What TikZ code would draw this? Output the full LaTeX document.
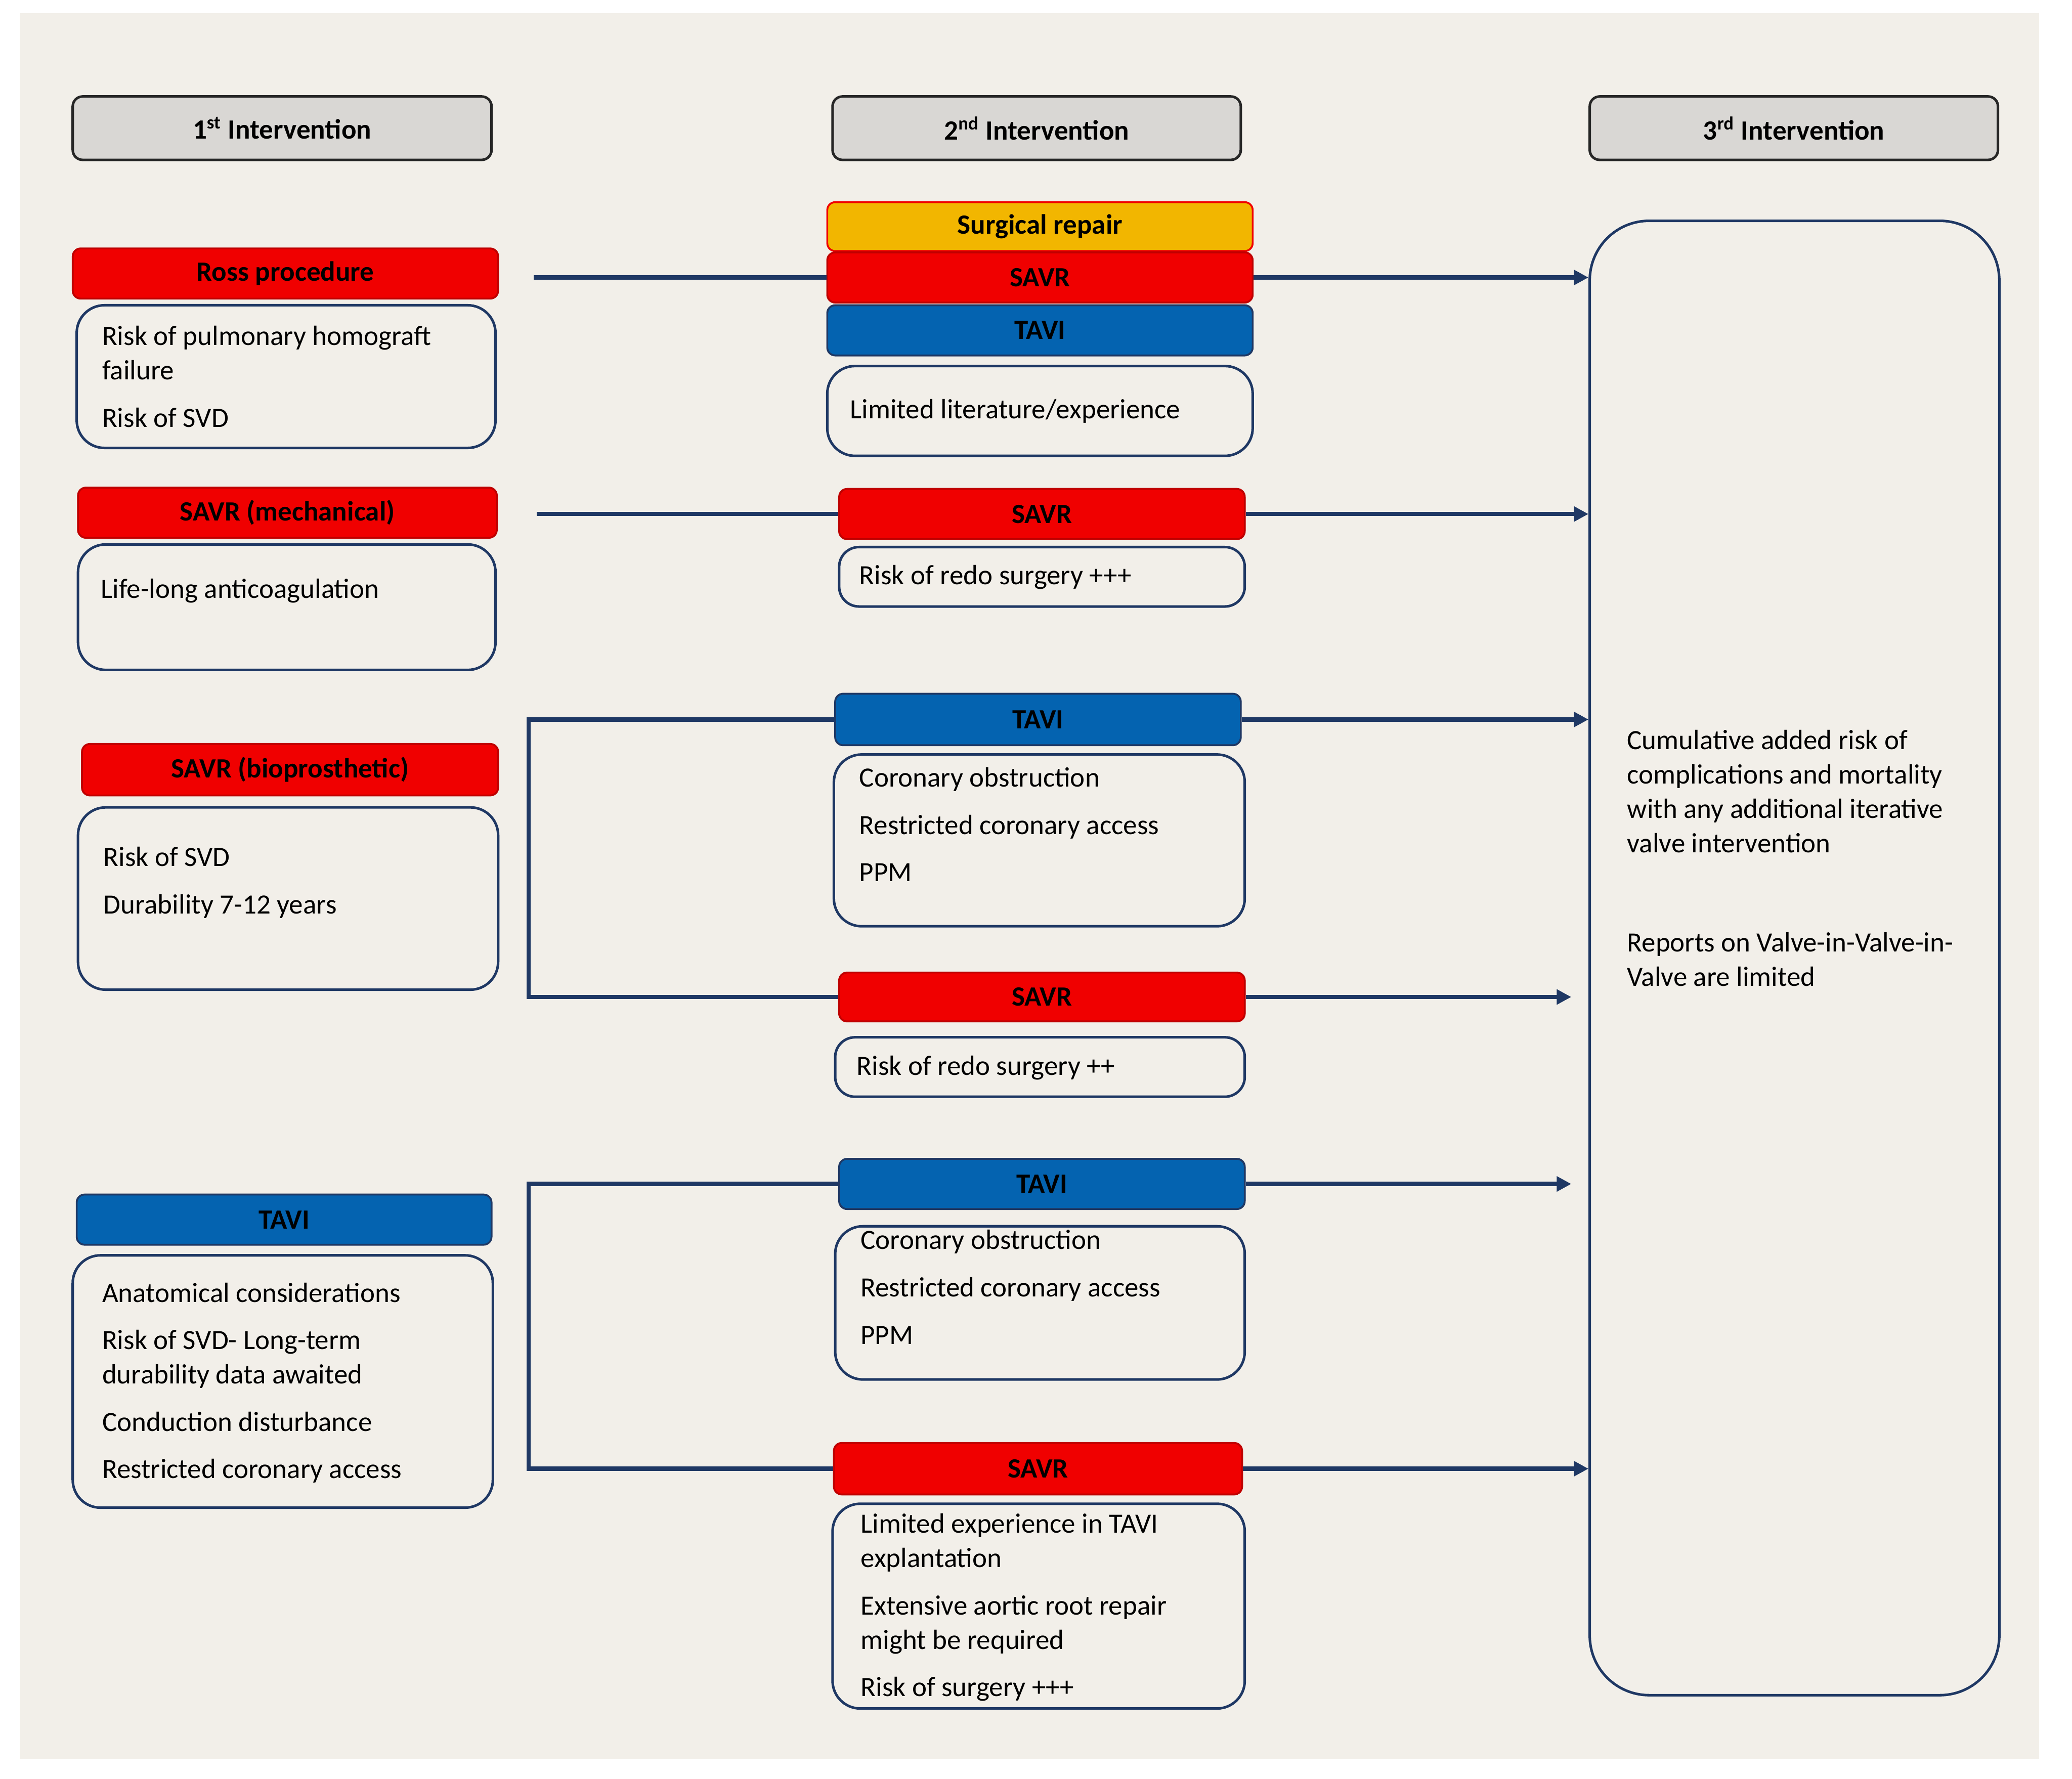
\documentclass[tikz,border=0pt]{standalone}
\usepackage{fontspec}
\setmainfont{Carlito}
\usetikzlibrary{arrows.meta}

\definecolor{panel}{RGB}{242,239,233}
\definecolor{headgray}{RGB}{217,215,212}
\definecolor{savrred}{RGB}{240,0,0}
\definecolor{taviblue}{RGB}{4,99,176}
\definecolor{repairyel}{RGB}{242,182,0}
\definecolor{navy}{RGB}{31,56,100}

\begin{document}
\begin{tikzpicture}[x=0.02cm,y=-0.02cm,>={Triangle[length=0.22cm,width=0.22cm]},
  every node/.style={font=\fontsize{12}{14.8}\selectfont,inner sep=0pt},
  head/.style={draw=black!85,line width=1.1pt,fill=headgray,rounded corners=0.15cm,
    font=\fontsize{12}{14.8}\selectfont\bfseries,minimum height=0.96cm},
  tag/.style={rounded corners=0.12cm,line width=0.8pt,
    font=\fontsize{12}{14.8}\selectfont\bfseries,minimum height=0.76cm},
  savr/.style={tag,fill=savrred,draw=red!75!black},
  tavi/.style={tag,fill=taviblue,draw=navy},
  repair/.style={tag,fill=repairyel,draw=savrred},
  risk/.style={draw=navy,line width=1.1pt,rounded corners=0.42cm},
  risktext/.style={anchor=west,align=left},
  link/.style={draw=navy,line width=1.8pt}]

  % page and panel
  \fill[white] (0,0) rectangle (1568,1346);
  \fill[panel] (15,10) rectangle (1543,1331);

  % column headers
  \node[head,minimum width=6.34cm] (h1) at (213.5,97) {1\textsuperscript{st} Intervention};
  \node[head,minimum width=6.18cm] (h2) at (784.5,97) {2\textsuperscript{nd} Intervention};
  \node[head,minimum width=6.18cm] (h3) at (1357.5,97) {3\textsuperscript{rd} Intervention};

  % 1st intervention
  \node[savr,minimum width=6.44cm] (ross) at (216,207) {Ross procedure};
  \node[risk,minimum width=6.34cm,minimum height=2.16cm] (rossR) at (216.5,285) {};
  \node[risktext] (rossT) at (77,285) {Risk of pulmonary homograft\\failure\\[5.6pt]Risk of SVD};

  \node[savr,minimum width=6.34cm] (mech) at (217.5,388) {SAVR (mechanical)};
  \node[risk,minimum width=6.32cm,minimum height=1.9cm] (mechR) at (217,459.5) {};
  \node[risktext] (mechT) at (76,447) {Life-long anticoagulation};

  \node[savr,minimum width=6.3cm,minimum height=0.78cm] (bio) at (219.5,582.5) {SAVR (bioprosthetic)};
  \node[risk,minimum width=6.36cm,minimum height=2.76cm] (bioR) at (218,680) {};
  \node[risktext] (bioT) at (78,668) {Risk of SVD\\[5.6pt]Durability 7-12 years};

  \node[tavi,minimum width=6.28cm] (tavi1) at (215,923) {TAVI};
  \node[risk,minimum width=6.36cm,minimum height=3.82cm] (tavi1R) at (214,1045.5) {};
  \node[risktext] (tavi1T) at (77,1046.5) {Anatomical considerations\\[5.6pt]Risk of SVD- Long-term\\durability data awaited\\[5.6pt]Conduction disturbance\\[5.6pt]Restricted coronary access};

  % 2nd intervention
  \node[repair,minimum width=6.44cm,minimum height=0.74cm] (rep) at (787,171.5) {Surgical repair};
  \node[savr,minimum width=6.44cm] (savrA) at (787,210) {SAVR};
  \node[tavi,minimum width=6.44cm] (taviA) at (787,250) {TAVI};
  \node[risk,minimum width=6.44cm,minimum height=1.36cm] (taviAR) at (787,311) {};
  \node[risktext] (taviAT) at (643,311) {Limited literature/experience};

  \node[savr,minimum width=6.14cm] (savrB) at (788.5,389) {SAVR};
  \node[risk,rounded corners=0.3cm,minimum width=6.14cm,minimum height=0.9cm] (savrBR) at (788.5,436.5) {};
  \node[risktext] (savrBT) at (650,437) {Risk of redo surgery +++};

  \node[tavi,minimum width=6.14cm,minimum height=0.78cm] (taviC) at (785.5,544.5) {TAVI};
  \node[risk,minimum width=6.22cm,minimum height=2.6cm] (taviCR) at (786.5,636) {};
  \node[risktext] (taviCT) at (650,624) {Coronary obstruction\\[5.6pt]Restricted coronary access\\[5.6pt]PPM};

  \node[savr,minimum width=6.14cm,minimum height=0.74cm] (savrC) at (788.5,754.5) {SAVR};
  \node[risk,rounded corners=0.3cm,minimum width=6.2cm,minimum height=0.9cm] (savrCR) at (787,807.5) {};
  \node[risktext] (savrCT) at (648,808) {Risk of redo surgery ++};

  \node[tavi,minimum width=6.14cm] (taviD) at (788.5,896) {TAVI};
  \node[risk,minimum width=6.2cm,minimum height=2.32cm] (taviDR) at (787,986) {};
  \node[risktext] (taviDT) at (651,974) {Coronary obstruction\\[5.6pt]Restricted coronary access\\[5.6pt]PPM};

  \node[savr,minimum width=6.18cm,minimum height=0.78cm] (savrD) at (785.5,1111.5) {SAVR};
  \node[risk,minimum width=6.24cm,minimum height=3.1cm] (savrDR) at (786,1215.5) {};
  \node[risktext] (savrDT) at (651,1216.5) {Limited experience in TAVI\\explantation\\[5.6pt]Extensive aortic root repair\\might be required\\[5.6pt]Risk of surgery +++};

  % 3rd intervention
  \node[risk,rounded corners=0.9cm,minimum width=6.2cm,minimum height=22.32cm] (cum) at (1358,725) {};
  \node[risktext] (cumT) at (1231,649.5) {Cumulative added risk of\\complications and mortality\\with any additional iterative\\valve intervention\\[28pt]Reports on Valve-in-Valve-in-\\Valve are limited};

  % connectors
  \coordinate (rossOut) at (404,210);
  \coordinate (mechOut) at (406,389);
  \coordinate (bioFork) at (400,650);
  \coordinate (taviFork) at (400,1005);

  \draw[link] (rossOut) -- (savrA.west);
  \draw[link,->] (savrA.east) -- (savrA.east -| cum.west);

  \draw[link] (mechOut) -- (savrB.west);
  \draw[link,->] (savrB.east) -- (savrB.east -| cum.west);

  \draw[link] (taviC.west) -| (bioFork) |- (savrC.west);
  \draw[link,->] (taviC.east) -- (taviC.east -| cum.west);
  \draw[link,->,shorten >=0.26cm] (savrC.east) -- (savrC.east -| cum.west);

  \draw[link] (taviD.west) -| (taviFork) |- (savrD.west);
  \draw[link,->,shorten >=0.26cm] (taviD.east) -- (taviD.east -| cum.west);
  \draw[link,->] (savrD.east) -- (savrD.east -| cum.west);
\end{tikzpicture}
\end{document}
